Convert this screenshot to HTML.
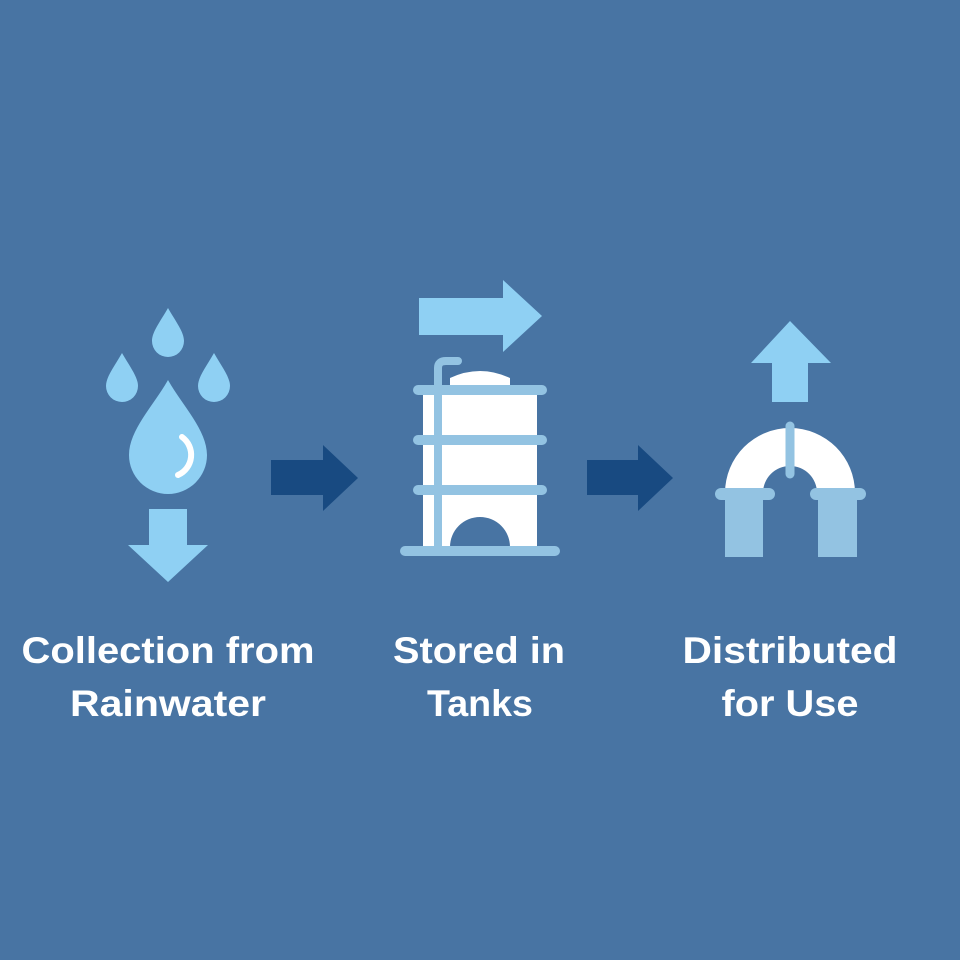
<!DOCTYPE html>
<html><head><style>html,body{margin:0;padding:0;background:#4874a3}svg{display:block}</style></head><body>
<svg width="960" height="960" viewBox="0 0 960 960" xmlns="http://www.w3.org/2000/svg">
<rect width="960" height="960" fill="#4874a3"/>
<g fill="#8fd0f3">
<path d="M168 308 C176 322 184 332 184 341 A16 16 0 0 1 152 341 C152 332 160 322 168 308Z"/>
<path d="M122 353 C130 367 138 377 138 386 A16 16 0 0 1 106 386 C106 377 114 367 122 353Z"/>
<path d="M214 353 C222 367 230 377 230 386 A16 16 0 0 1 198 386 C198 377 206 367 214 353Z"/>
<path d="M168 380 C182 405 207 430 207 455 A39 39 0 0 1 129 455 C129 430 154 405 168 380Z"/>
<path d="M149 509 H187 V545 H208 L168 582 L128 545 H149Z"/>
<path d="M419 298 H503 V280 L542 316 L503 352 V335 H419Z"/>
<path d="M790 321 L831 363 H808 V402 H772 V363 H751Z"/>
</g>
<path d="M182 437 A22 22 0 0 1 178 475" fill="none" stroke="#fff" stroke-width="6" stroke-linecap="round"/>
<g fill="#184a81">
<path d="M271 460 H323 V445 L358 478 L323 511 V495 H271Z"/>
<path d="M587 460 H638 V445 L673 478 L638 511 V495 H587Z"/>
</g>
<path d="M450 388 V378 Q480 364 510 378 V388Z" fill="#fff"/>
<path d="M423 385 H537 V547 H510 A30 30 0 0 0 450 547 H423Z" fill="#fff"/>
<g stroke="#93c3e2" stroke-width="10" stroke-linecap="round" fill="none">
<line x1="418" y1="390" x2="542" y2="390"/>
<line x1="418" y1="440" x2="542" y2="440"/>
<line x1="418" y1="490" x2="542" y2="490"/>
<line x1="405" y1="551" x2="555" y2="551"/>
<path d="M438 547 V368 Q438 361 446 361 H458" stroke-width="8"/>
</g>
<path d="M725 493 A65 65 0 0 1 855 493 H817 A27 27 0 0 0 763 493Z" fill="#fff"/>
<line x1="790" y1="426" x2="790" y2="474" stroke="#93c3e2" stroke-width="9" stroke-linecap="round"/>
<g fill="#93c3e2">
<rect x="725" y="493" width="38" height="64"/>
<rect x="818" y="493" width="39" height="64"/>
<rect x="715" y="488" width="60" height="12" rx="6"/>
<rect x="810" y="488" width="56" height="12" rx="6"/>
</g>
<g font-family="Liberation Sans, sans-serif" font-weight="bold" font-size="37" fill="#fff" text-anchor="middle" lengthAdjust="spacingAndGlyphs">
<text x="168" y="663" textLength="293" lengthAdjust="spacingAndGlyphs">Collection from</text>
<text x="168" y="716" textLength="196" lengthAdjust="spacingAndGlyphs">Rainwater</text>
<text x="479" y="663" textLength="172" lengthAdjust="spacingAndGlyphs">Stored in</text>
<text x="480" y="716" textLength="106" lengthAdjust="spacingAndGlyphs">Tanks</text>
<text x="790" y="663" textLength="215" lengthAdjust="spacingAndGlyphs">Distributed</text>
<text x="790" y="716" textLength="137" lengthAdjust="spacingAndGlyphs">for Use</text>
</g>
</svg>
</body></html>
